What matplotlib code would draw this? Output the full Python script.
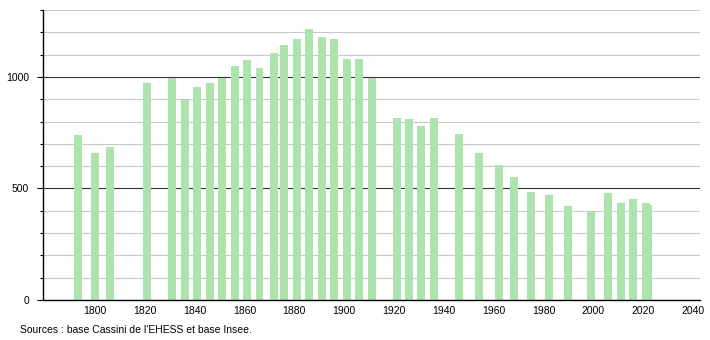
import matplotlib
matplotlib.use("Agg")
import matplotlib.pyplot as plt
from matplotlib.ticker import MultipleLocator

# census years and population
years = [1793, 1800, 1806, 1821, 1831, 1836, 1841, 1846, 1851, 1856,
         1861, 1866, 1872, 1876, 1881, 1886, 1891, 1896, 1901, 1906,
         1911, 1921, 1926, 1931, 1936, 1946, 1954, 1962, 1968, 1975,
         1982, 1990, 1999, 2006, 2011, 2016, 2021, 2022]
population = [738, 660, 687, 973, 993, 898, 954, 972, 993, 1051,
              1078, 1042, 1109, 1145, 1171, 1217, 1181, 1171, 1081, 1081,
              997, 817, 810, 778, 817, 745, 660, 606, 552, 485,
              472, 422, 398, 481, 434, 451, 436, 425]
x_ticks = list(range(1800, 2041, 20))
y_labels = [0, 500, 1000]

plt.rcParams["font.family"] = ["Liberation Sans", "DejaVu Sans"]

fig = plt.figure(figsize=(7.1, 3.4), dpi=100)
ax = fig.add_axes([43 / 710, 40 / 340, 657 / 710, 290 / 340])

ax.bar(years, population, width=3.2, color="#ade3ad", zorder=3)

ax.set_xlim(1779.1, 2042.8)
ax.set_ylim(0, 1300)

ax.yaxis.set_major_locator(MultipleLocator(500))
ax.yaxis.set_minor_locator(MultipleLocator(100))
ax.set_yticks(y_labels)
ax.set_yticklabels([str(v) for v in y_labels], fontsize=7.5)
ax.grid(axis="y", which="minor", color="#c8c8c8", linewidth=0.8, zorder=0)
ax.grid(axis="y", which="major", color="#333333", linewidth=0.8, zorder=1)

ax.set_xticks(x_ticks)
ax.set_xticklabels([str(v) for v in x_ticks], fontsize=7.5)
ax.tick_params(axis="x", length=0, pad=4)
ax.tick_params(axis="y", which="major", length=4, width=0.8, pad=6)
ax.tick_params(axis="y", which="minor", length=2, width=0.8)

for side in ("top", "right"):
    ax.spines[side].set_visible(False)
for side in ("left", "bottom"):
    ax.spines[side].set_linewidth(1.0)
    ax.spines[side].set_zorder(4)

fig.text(20 / 710, 1 - 330 / 340, "Sources : base Cassini de l'EHESS et base Insee.",
         fontsize=7.5, va="center", ha="left")

fig.savefig("out.png", dpi=100)
